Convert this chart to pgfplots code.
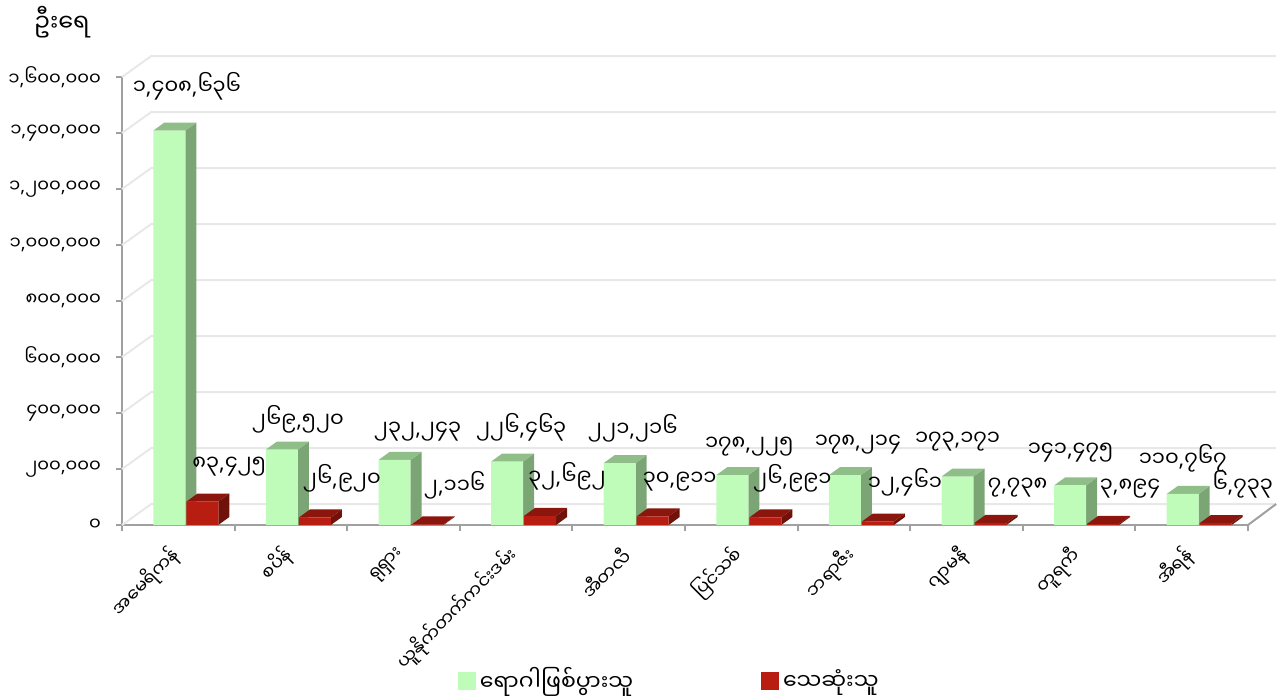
\documentclass[border=0pt]{standalone}
\usepackage{pgfplots}
\pgfplotsset{compat=1.18}
\usepackage{pgfplotstable}
\usepackage{fontspec}
\setmainfont[Script=Myanmar]{Noto Sans Myanmar UI}
\newfontfamily\latinfont{Noto Sans}
\newfontfamily\mmfont[Script=Myanmar]{Noto Sans Myanmar UI}
\newcommand\fs[1]{\fontsize{#1}{#1}\selectfont}

% the Myanmar font has no comma: set commas in Noto Sans
\XeTeXinterchartokenstate=1
\newXeTeXintercharclass\commaclass
\XeTeXcharclass`\,=\commaclass
\XeTeXinterchartoks 0 \commaclass={\latinfont}
\XeTeXinterchartoks \commaclass 0={\mmfont}

\definecolor{gfront}{RGB}{192,252,185}
\definecolor{gtop}{RGB}{143,190,137}
\definecolor{gside}{RGB}{124,165,118}
\definecolor{rfront}{RGB}{183,29,17}
\definecolor{rtop}{RGB}{139,22,13}
\definecolor{rside}{RGB}{112,18,10}
\definecolor{gridc}{RGB}{232,232,232}
\definecolor{axisc}{RGB}{160,160,160}

% cases / deaths, labels as printed on the chart
\pgfplotstableread{
x cases deaths gdx gdy clab dlab name
0 1408636 83425 8.75 18 ၁,၄၀၈,၆၃၆ ၈၃,၄၂၅ အမေရိကန်
1 269520 26920 8 11 ၂၆၉,၅၂၀ ၂၆,၉၂၀ စပိန်
2 232243 2116 11.5 12 ၂၃၂,၂၄၃ ၂,၁၁၆ ရုရှား
3 226463 32692 7 13 ၂၂၆,၄၆၃ ၃၂,၆၉၂ ယူနိုက်တက်ကင်းဒမ်း
4 221216 30911 6.5 13.5 ၂၂၁,၂၁၆ ၃၀,၉၁၁ အီတလီ
5 178225 26991 8.5 12.5 ၁၇၈,၂၂၅ ၂၆,၉၉၁ ပြင်သစ်
6 178214 12461 6.5 13.5 ၁၇၈,၂၁၄ ၁၂,၄၆၁ ဘရာဇီး
7 173171 7738 0 15.5 ၁၇၃,၁၇၁ ၇,၇၃၈ ဂျာမနီ
8 141475 3894 0.25 14.5 ၁၄၁,၄၇၅ ၃,၈၉၄ တူရကီ
9 110767 6733 0 13.5 ၁၁၀,၇၆၇ ၆,၇၃၃ အီရန်
}\datatable

% top and side faces of one 3D bar: row, column, left offset, top colour, side colour
\newcommand\cube[5]{%
  \pgfplotstablegetelem{#1}{#2}\of\datatable
  \edef\val{\pgfplotsretval}%
  \edef\valt{\the\numexpr\val+28571\relax}%
  \pgfmathsetmacro\xl{#1+0.5#3}%
  \pgfmathsetmacro\xr{\xl+0.284}%
  \pgfmathsetmacro\xlb{\xl+0.098}%
  \pgfmathsetmacro\xrb{\xr+0.098}%
  \edef\next{%
    \noexpand\addplot[fill=#5, draw=none, forget plot] coordinates {(\xr,0) (\xrb,28571) (\xrb,\valt) (\xr,\val)} -- cycle;
    \noexpand\addplot[fill=#4, draw=none, forget plot] coordinates {(\xl,\val) (\xr,\val) (\xrb,\valt) (\xlb,\valt)} -- cycle;
  }\next
}

\begin{document}
\begin{tikzpicture}
\begin{axis}[
  anchor=south west, at={(0pt,0pt)},
  scale only axis, width=563pt, height=224pt,
  xmin=0, xmax=10, ymin=0, ymax=1600000,
  clip=false, scaled y ticks=false,
  axis x line*=bottom, axis y line*=left,
  axis line style={draw=axisc, line width=1pt, -},
  tick align=outside,
  xtick={0.5,1.5,2.5,3.5,4.5,5.5,6.5,7.5,8.5,9.5},
  xticklabels from table={\datatable}{name},
  minor xtick={0,1,2,3,4,5,6,7,8,9,10},
  major x tick style={draw=none},
  minor x tick style={draw=axisc, line width=1pt},
  minor tick length=3pt,
  ytick={0,200000,400000,600000,800000,1000000,1200000,1400000,1600000},
  yticklabels={၀,{၂၀၀,၀၀၀},{၄၀၀,၀၀၀},{၆၀၀,၀၀၀},{၈၀၀,၀၀၀},{၁,၀၀၀,၀၀၀},{၁,၂၀၀,၀၀၀},{၁,၄၀၀,၀၀၀},{၁,၆၀၀,၀၀၀}},
  major y tick style={draw=axisc, line width=1pt},
  major tick length=3pt,
  yticklabel style={font=\fs{9}, xshift=-4pt},
  xticklabel style={font=\fs{9}, anchor=east, xshift=1.5pt, yshift=-8pt, rotate=45},
  legend style={draw=none, at={(0.487,-0.348)}, anchor=center, font=\fs{11},
    legend columns=2, /tikz/every even column/.append style={column sep=62pt}},
]
% back wall and floor
\addplot[gridc, line width=1pt, forget plot] coordinates {(0,0) (0.26,75000) (10.25,75000)};
\addplot[gridc, line width=1pt, forget plot] coordinates {(0,200000) (0.26,275000) (10.25,275000)};
\addplot[gridc, line width=1pt, forget plot] coordinates {(0,400000) (0.26,475000) (10.25,475000)};
\addplot[gridc, line width=1pt, forget plot] coordinates {(0,600000) (0.26,675000) (10.25,675000)};
\addplot[gridc, line width=1pt, forget plot] coordinates {(0,800000) (0.26,875000) (10.25,875000)};
\addplot[gridc, line width=1pt, forget plot] coordinates {(0,1000000) (0.26,1075000) (10.25,1075000)};
\addplot[gridc, line width=1pt, forget plot] coordinates {(0,1200000) (0.26,1275000) (10.25,1275000)};
\addplot[gridc, line width=1pt, forget plot] coordinates {(0,1400000) (0.26,1475000) (10.25,1475000)};
\addplot[gridc, line width=1pt, forget plot] coordinates {(0,1600000) (0.26,1675000) (10.25,1675000)};
\addplot[axisc, line width=1pt, forget plot] coordinates {(10,0) (10.25,75000)};

% cases
\pgfplotsinvokeforeach{0,...,9}{\cube{#1}{cases}{-0.222}{gtop}{gside}}
\addplot[ybar, bar width=0.284, bar shift=-0.08, fill=gfront, draw=none, forget plot]
  table[x expr=\thisrow{x}+0.5, y=cases]{\datatable};
% deaths
\pgfplotsinvokeforeach{0,...,9}{\cube{#1}{deaths}{+0.071}{rtop}{rside}}
\addplot[ybar, bar width=0.284, bar shift=0.213, fill=rfront, draw=none, forget plot]
  table[x expr=\thisrow{x}+0.5, y=deaths]{\datatable};

% value labels
\addplot[draw=none, mark=none, forget plot, point meta=explicit symbolic, nodes near coords,
  visualization depends on={\thisrow{gdx} \as \gdx},
  visualization depends on={\thisrow{gdy} \as \gdy},
  every node near coord/.append style={anchor=base, xshift=\gdx pt, yshift=\gdy pt, font=\fs{10.5}, inner sep=0pt}]
  table[x expr=\thisrow{x}+0.42, y=cases, meta=clab]{\datatable};
\addplot[draw=none, mark=none, forget plot, point meta=explicit symbolic, nodes near coords,
  every node near coord/.append style={anchor=base, xshift=13.5pt, yshift=15.5pt, font=\fs{10.5}, inner sep=0pt}]
  table[x expr=\thisrow{x}+0.713, y=deaths, meta=dlab]{\datatable};

\addlegendimage{legend image code/.code={\fill[gfront] (0pt,-4.25pt) rectangle (8.5pt,4.25pt);}}
\addlegendentry{ရောဂါဖြစ်ပွားသူ}
\addlegendimage{legend image code/.code={\fill[rfront] (0pt,-4.25pt) rectangle (8.5pt,4.25pt);}}
\addlegendentry{သေဆုံးသူ}
\end{axis}
\node[font=\fs{12}] at (-30pt,251.5pt) {ဦးရေ};
\pgfresetboundingbox
\path[use as bounding box] (-61pt,-86pt) rectangle (583pt,262.5pt);
\end{tikzpicture}
\end{document}
